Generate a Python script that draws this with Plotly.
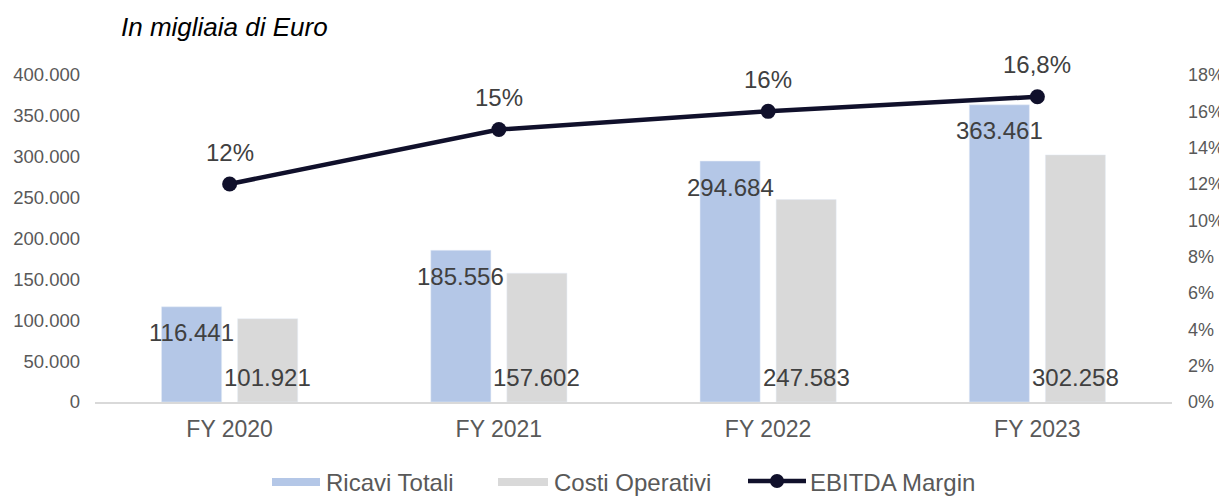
import plotly.graph_objects as go

categories = ["FY 2020", "FY 2021", "FY 2022", "FY 2023"]
ricavi = [116441, 185556, 294684, 363461]
costi = [101921, 157602, 247583, 302258]
ebitda_margin = [0.12, 0.15, 0.16, 0.168]
series_names = ["Ricavi Totali", "Costi Operativi", "EBITDA Margin"]

FONT = "Liberation Sans, Arial, sans-serif"
LABEL_COLOR = "#404040"
TICK_COLOR = "#595959"
C_RICAVI = "#b4c7e7"
C_COSTI = "#d9d9d9"
C_LINE = "#10102b"

# page offset (default body margin of the html page)
OFF = 8
W, H = 1227, 497
# plot area in page pixels: x 95..1172, y 75..402
ML = 95 - OFF
MT = 75 - OFF
MR = W - (1172 - OFF)
MB = H - (402 - OFF)
PW, PH = W - ML - MR, H - MT - MB


def px(x):
    return (x - OFF - ML) / PW


def py(y):
    return (H - MB - (y - OFF)) / PH


def it_num(v):
    return f"{v:,}".replace(",", ".")


def it_pct(v):
    s = f"{v*100:.1f}".rstrip("0").rstrip(".")
    return s.replace(".", ",") + "%"


fig = go.Figure()
fig.add_trace(go.Bar(x=categories, y=ricavi, name=series_names[0],
                     marker_color=C_RICAVI, yaxis="y"))
fig.add_trace(go.Bar(x=categories, y=costi, name=series_names[1],
                     marker_color=C_COSTI, yaxis="y"))
fig.add_trace(go.Scatter(x=categories, y=ebitda_margin, name=series_names[2],
                         mode="lines+markers", yaxis="y2",
                         line=dict(color=C_LINE, width=4.5),
                         marker=dict(color=C_LINE, size=15)))

annotations = []
lab_font = dict(size=24, color=LABEL_COLOR, family=FONT)
for c, r, k, m in zip(categories, ricavi, costi, ebitda_margin):
    annotations.append(dict(x=c, y=r, xref="x", yref="y", text=it_num(r),
                            showarrow=False, xshift=-38, yshift=-26, font=lab_font))
    annotations.append(dict(x=c, y=0, xref="x", yref="y", text=it_num(k),
                            showarrow=False, xshift=38, yshift=25, font=lab_font))
    annotations.append(dict(x=c, y=m, xref="x", yref="y2", text=it_pct(m),
                            showarrow=False, yshift=32, font=lab_font))

annotations.append(dict(x=px(119), y=py(27), xref="paper", yref="paper",
                        xanchor="left", yanchor="middle", showarrow=False,
                        text="<i>In migliaia di Euro</i>",
                        font=dict(size=26, color="#000000", family=FONT)))

# custom legend (wide swatches, like the original)
shapes = []
leg_y = 482
leg_font = dict(size=24, color=TICK_COLOR, family=FONT)
shapes.append(dict(type="rect", xref="paper", yref="paper",
                   x0=px(272), x1=px(320), y0=py(leg_y + 4), y1=py(leg_y - 4),
                   fillcolor=C_RICAVI, line=dict(width=0)))
annotations.append(dict(x=px(324), y=py(leg_y), xref="paper", yref="paper",
                        xanchor="left", yanchor="middle", showarrow=False,
                        text=series_names[0], font=leg_font))
shapes.append(dict(type="rect", xref="paper", yref="paper",
                   x0=px(498), x1=px(548), y0=py(leg_y + 4), y1=py(leg_y - 4),
                   fillcolor=C_COSTI, line=dict(width=0)))
annotations.append(dict(x=px(552), y=py(leg_y), xref="paper", yref="paper",
                        xanchor="left", yanchor="middle", showarrow=False,
                        text=series_names[1], font=leg_font))
shapes.append(dict(type="line", xref="paper", yref="paper",
                   x0=px(748), x1=px(806), y0=py(leg_y - 1), y1=py(leg_y - 1),
                   line=dict(color=C_LINE, width=4.5)))
shapes.append(dict(type="circle", xref="paper", yref="paper",
                   x0=px(770), x1=px(784), y0=py(leg_y + 6), y1=py(leg_y - 8),
                   fillcolor=C_LINE, line=dict(width=0)))
annotations.append(dict(x=px(808), y=py(leg_y), xref="paper", yref="paper",
                        xanchor="left", yanchor="middle", showarrow=False,
                        text=series_names[2], font=leg_font))

fig.update_layout(
    width=W, height=H,
    margin=dict(l=ML, r=MR, t=MT, b=MB, autoexpand=False),
    paper_bgcolor="white", plot_bgcolor="white",
    separators=",.",
    barmode="group", bargap=0.435, bargroupgap=0.21,
    font=dict(family=FONT, color=TICK_COLOR),
    showlegend=False,
    xaxis=dict(showline=True, linecolor="#d9d9d9", linewidth=1.5,
               showgrid=False, ticks="", tickfont=dict(size=23, color=TICK_COLOR),
               ticklabelstandoff=6),
    yaxis=dict(range=[0, 400000], dtick=50000, tickformat=",d",
               showgrid=False, zeroline=False, showline=False, ticks="",
               tickfont=dict(size=18.5, color=TICK_COLOR), ticklabelstandoff=14),
    yaxis2=dict(range=[0, 0.18], dtick=0.02, tickformat=".0%",
                overlaying="y", side="right", showgrid=False, zeroline=False,
                showline=False, ticks="", tickfont=dict(size=18, color=TICK_COLOR),
                ticklabelstandoff=15),
    annotations=annotations,
    shapes=shapes,
)

fig.write_html("out.html")
